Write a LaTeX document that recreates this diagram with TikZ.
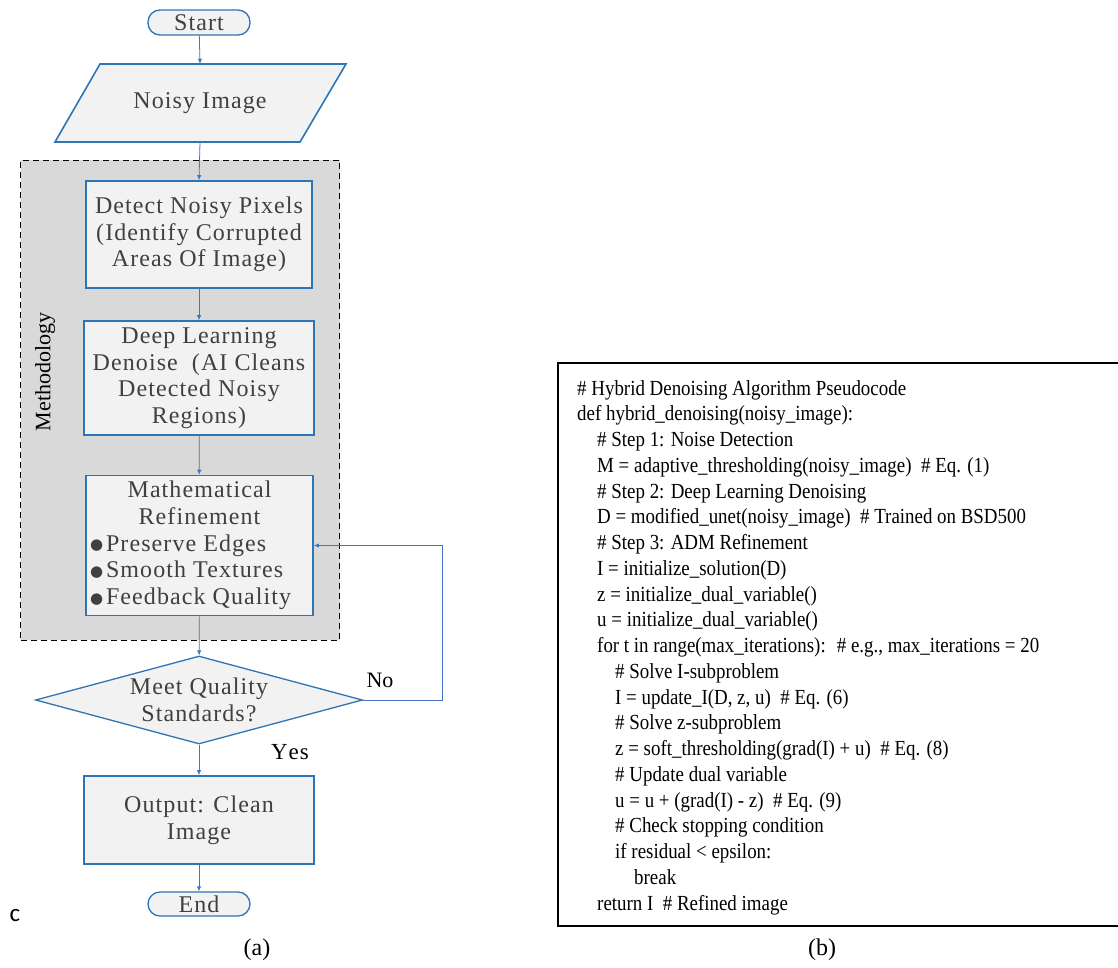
\documentclass[tikz,border=0pt]{standalone}
\usepackage{fontspec}
\setmainfont{Liberation Serif}
\newfontfamily\fcfont[LetterSpace=4.5]{Liberation Serif}
\newfontfamily\codefont[FakeStretch=0.88]{Liberation Serif}
\newfontfamily\sansc{Carlito}
\newfontfamily\djv{DejaVu Sans}
\usetikzlibrary{shapes.geometric,arrows.meta}
\definecolor{bordblue}{RGB}{46,117,182}
\definecolor{arrblue}{RGB}{68,114,196}
\definecolor{boxfill}{RGB}{242,242,242}
\definecolor{grpfill}{RGB}{217,217,217}
\definecolor{txtgray}{RGB}{64,64,64}
\newcommand{\bigbul}{\hspace{1pt}\raisebox{1.5pt}{\djv\fontsize{15}{15}\selectfont ●}\hspace{3pt}}
\tikzset{
  flow/.style={font=\fcfont\fontsize{24}{26.7}\selectfont, text=txtgray},
  stepbox/.style={flow, draw=bordblue, line width=1.6pt, fill=boxfill, inner sep=0pt, align=center},
  term/.style={flow, draw=bordblue, line width=1.3pt, fill=boxfill, rounded corners=12pt, inner sep=0pt, minimum width=102pt},
  arr/.style={draw=arrblue, line width=0.8pt, -{Latex[length=5pt,width=4.5pt]}},
  lbl/.style={font=\fontsize{22}{26}\selectfont, text=black, inner sep=0pt},
  codeline/.style={font=\codefont\fontsize{21.5}{25}\selectfont, anchor=base west, inner sep=0pt},
}
\begin{document}
\begin{tikzpicture}[x=1pt,y=-1pt]
\useasboundingbox (0,0) rectangle (1118,967);
% group
\node[draw=black, dashed, dash pattern=on 6pt off 4pt, line width=1pt, fill=grpfill,
      minimum width=319pt, minimum height=480pt, inner sep=0pt] (grp) at (180,400) {};
\node[lbl, rotate=90] (meth) at (45,372) {Methodology};
% start
\node[term, minimum height=25pt] (start) at (199,22.5) {Start};
% noisy image parallelogram
\node[minimum width=246pt, minimum height=78pt, inner sep=0pt] (noisy) at (200,103) {};
\fill[boxfill] (100,64) -- (346,64) -- (300,142) -- (55,142) -- cycle;
\draw[bordblue, line width=1.6pt] (100,64) -- (346,64) -- (300,142) -- (55,142) -- cycle;
\node[flow] (noisyt) at (noisy.center) {Noisy Image};
% boxes
\node[stepbox, minimum width=226pt, minimum height=107pt] (b1) at (199,234.5)
  {Detect Noisy Pixels\\(Identify Corrupted\\Areas Of Image)};
\node[stepbox, minimum width=230pt, minimum height=114pt] (b2) at (199,378)
  {Deep Learning\\Denoise \ (AI Cleans\\Detected Noisy\\Regions)};
\node[stepbox, minimum width=227pt, minimum height=140pt] (b3) at (199.5,545.5)
  {\parbox{221pt}{\centering Mathematical\\Refinement\par\raggedright
   \bigbul Preserve Edges\\\bigbul Smooth Textures\\\bigbul Feedback Quality}};
% diamond
\node[diamond, draw=bordblue, line width=1.3pt, fill=boxfill, minimum width=327pt, minimum height=88pt, inner sep=0pt] (dia) at (199,700) {};
\node[flow, align=center] (diat) at (199,700) {Meet Quality\\Standards?};
% output and end
\node[stepbox, minimum width=230pt, minimum height=88pt] (out) at (199,820) {Output: Clean\\Image};
\node[term, minimum height=24pt] (end) at (199,904) {End};
% arrows
\draw[arr] (start) -- (noisy.north);
\draw[arr] (noisy.south) -- (b1.north);
\draw[arr] (b1) -- (b2);
\draw[arr] (b2) -- (b3);
\draw[arr] (b3) -- (dia);
\draw[arr] (dia.east) -- ++(79,0) |- (b3.east);
\draw[arr] (dia) -- (out);
\draw[arr] (out) -- (end);
\node[lbl] (no) at (380,680) {No};
\node[lbl, font=\fcfont\fontsize{23}{26}\selectfont] (yes) at (290,752) {Y\kern1pt es};
\node[inner sep=0pt, font=\sansc\fontsize{25}{28}\selectfont] (c) at (15,916) {c};
\node[lbl, font=\fontsize{24}{28}\selectfont] (capa) at (257,950) {(a)};
% code box
\draw[black, line width=1.8pt] (1120,363) -- (558,363) -- (558,926) -- (1120,926);
\node[codeline] (l0) at (577,395) {\# Hybrid Denoising Algorithm Pseudocode};
\node[codeline] (l1) at (577,420.75) {def hybrid\_denoising(noisy\_image):};
\node[codeline] (l2) at (597,446.5) {\# Step 1: Noise Detection};
\node[codeline] (l3) at (597,472.25) {M = adaptive\_thresholding(noisy\_image) \ \# Eq. (1)};
\node[codeline] (l4) at (597,498) {\# Step 2: Deep Learning Denoising};
\node[codeline] (l5) at (597,523.75) {D = modified\_unet(noisy\_image) \ \# Trained on BSD500};
\node[codeline] (l6) at (597,549.5) {\# Step 3: ADM Refinement};
\node[codeline] (l7) at (597,575.25) {I = initialize\_solution(D)};
\node[codeline] (l8) at (597,601) {z = initialize\_dual\_variable()};
\node[codeline] (l9) at (597,626.75) {u = initialize\_dual\_variable()};
\node[codeline] (l10) at (597,652.5) {for t in range(max\_iterations): \ \# e.g., max\_iterations = 20};
\node[codeline] (l11) at (615,678.25) {\# Solve I-subproblem};
\node[codeline] (l12) at (615,704) {I = update\_I(D, z, u) \ \# Eq. (6)};
\node[codeline] (l13) at (615,729.75) {\# Solve z-subproblem};
\node[codeline] (l14) at (615,755.5) {z = soft\_thresholding(grad(I) + u) \ \# Eq. (8)};
\node[codeline] (l15) at (615,781.25) {\# Update dual variable};
\node[codeline] (l16) at (615,807) {u = u + (grad(I) - z) \ \# Eq. (9)};
\node[codeline] (l17) at (615,832.75) {\# Check stopping condition};
\node[codeline] (l18) at (615,858.5) {if residual < epsilon:};
\node[codeline] (l19) at (634,884.25) {break};
\node[codeline] (l20) at (597,910) {return I \ \# Refined image};
\node[lbl, font=\fontsize{24}{28}\selectfont] (capb) at (822,950) {(b)};
\end{tikzpicture}
\end{document}
